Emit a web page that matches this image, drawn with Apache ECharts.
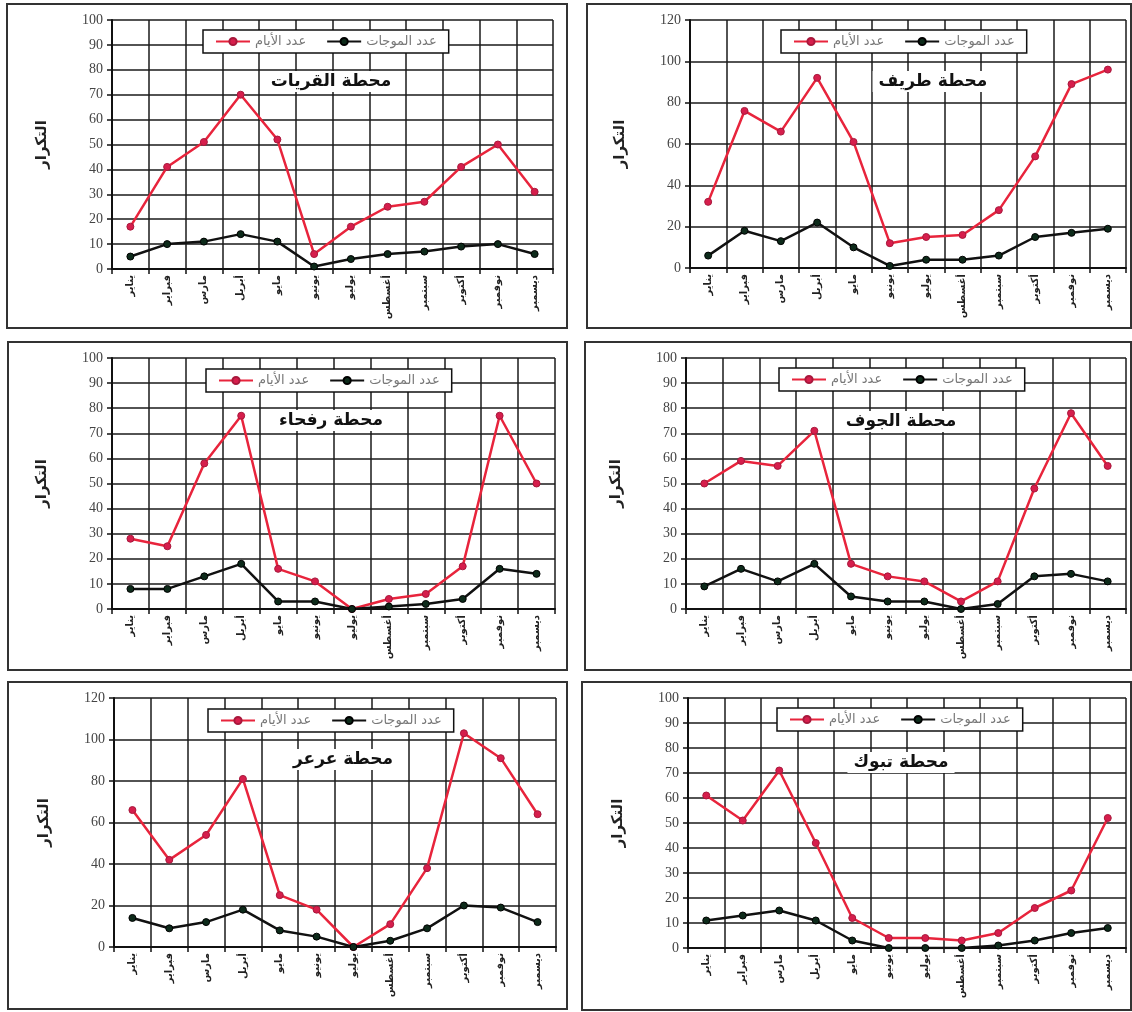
<!DOCTYPE html>
<html>
<head>
<meta charset="utf-8">
<script src="https://cdn.jsdelivr.net/npm/echarts@6/dist/echarts.min.js"></script>
<style>
html,body{margin:0;padding:0;background:#fff;}
#chart{width:1132px;height:1012px;}
</style>
</head>
<body>
<div id="chart"></div>
<script>
// ---- data ----
const months = ['يناير','فبراير','مارس','أبريل','مايو','يونيو','يوليو','أغسطس','سبتمبر','أكتوبر','نوفمبر','ديسمبر'];
const seriesNames = ['عدد الأيام','عدد الموجات'];
const yAxisName = 'التكرار';
const stationTitles = ['محطة القريات','محطة طريف','محطة رفحاء','محطة الجوف','محطة عرعر','محطة تبوك'];
const yMaxes = [100,120,100,100,120,100];
const yIntervals = [10,20,10,10,20,10];

const qurayyatDays  = [17,41,51,70,52,6,17,25,27,41,50,31];
const qurayyatWaves = [5,10,11,14,11,1,4,6,7,9,10,6];
const turaifDays    = [32,76,66,92,61,12,15,16,28,54,89,96];
const turaifWaves   = [6,18,13,22,10,1,4,4,6,15,17,19];
const rafhaDays     = [28,25,58,77,16,11,0,4,6,17,77,50];
const rafhaWaves    = [8,8,13,18,3,3,0,1,2,4,16,14];
const joufDays      = [50,59,57,71,18,13,11,3,11,48,78,57];
const joufWaves     = [9,16,11,18,5,3,3,0,2,13,14,11];
const ararDays      = [66,42,54,81,25,18,0,11,38,103,91,64];
const ararWaves     = [14,9,12,18,8,5,0,3,9,20,19,12];
const tabukDays     = [61,51,71,42,12,4,4,3,6,16,23,52];
const tabukWaves    = [11,13,15,11,3,0,0,0,1,3,6,8];

const daysData  = [qurayyatDays, turaifDays, rafhaDays, joufDays, ararDays, tabukDays];
const wavesData = [qurayyatWaves, turaifWaves, rafhaWaves, joufWaves, ararWaves, tabukWaves];

// ---- layout ----
const grids = [
  {left:112, top:20,  width:441, height:249},
  {left:690, top:20,  width:436, height:248},
  {left:112, top:358, width:443, height:251},
  {left:686, top:358, width:440, height:251},
  {left:114, top:698, width:442, height:249},
  {left:688, top:698, width:438, height:250}
];
const boxes = [
  [7,4,560,324],[587,4,544,324],
  [8,342,559,328],[585,342,546,328],
  [8,682,559,327],[582,682,549,328]
];
const legendPos = [[203,30],[781,30],[206,369],[779,368],[208,709],[777,708]];
const titlePos  = [[325,71],[927,71],[325,410],[895,411],[337,749],[895,752]];

const serif = '"Liberation Serif","DejaVu Serif","DejaVu Sans",serif';
const arab = '"DejaVu Sans",sans-serif';

const option = {
  backgroundColor:'#fff',
  animation:false,
  grid: grids.map(g=>Object.assign({containLabel:false}, g)),
  title: stationTitles.map((t,i)=>({
    text:t, left:titlePos[i][0], top:titlePos[i][1], textAlign:'center',
    backgroundColor:'#fff', padding:[2,6],
    textStyle:{fontFamily:arab, fontSize:17, fontWeight:'bold', color:'#111'}
  })),
  legend: legendPos.map((p,i)=>({
    data:seriesNames, left:p[0], top:p[1], orient:'horizontal',
    backgroundColor:'#fff', borderColor:'#111', borderWidth:1.5,
    padding:[5,12], itemGap:20, itemWidth:34, itemHeight:9,
    textStyle:{fontFamily:arab, fontSize:13, color:'#777'}
  })),
  xAxis: grids.map((g,i)=>({
    type:'category', gridIndex:i, data:months, boundaryGap:true,
    axisLine:{lineStyle:{color:'#111', width:2}},
    axisTick:{show:true, length:5, lineStyle:{color:'#111', width:1.5}},
    splitLine:{show:true, lineStyle:{color:'#1a1a1a', width:1.5}},
    axisLabel:{rotate:90, interval:0, fontFamily:arab, fontSize:10, fontWeight:'bold', color:'#222', margin:6}
  })),
  yAxis: grids.map((g,i)=>({
    type:'value', gridIndex:i, min:0, max:yMaxes[i], interval:yIntervals[i],
    name:yAxisName, nameLocation:'middle', nameRotate:90, nameGap:62,
    nameTextStyle:{fontFamily:arab, fontSize:15, fontWeight:'bold', color:'#222'},
    axisLine:{show:true, lineStyle:{color:'#111', width:2}},
    axisTick:{show:true, length:5, lineStyle:{color:'#111', width:1.5}},
    splitLine:{show:true, lineStyle:{color:'#1a1a1a', width:1.5}},
    axisLabel:{fontFamily:serif, fontSize:14, color:'#444', margin:9}
  })),
  series: [],
  graphic: boxes.map(b=>({
    type:'rect', shape:{x:b[0], y:b[1], width:b[2], height:b[3]},
    style:{fill:'none', stroke:'#333', lineWidth:2}, z:-1, silent:true
  }))
};

for (let i=0;i<6;i++){
  option.series.push({
    name:seriesNames[0], type:'line', xAxisIndex:i, yAxisIndex:i, data:daysData[i],
    symbol:'circle', symbolSize:7, z:3,
    lineStyle:{color:'#e8243c', width:2.5},
    itemStyle:{color:'#d61e4c', borderColor:'#a8183c', borderWidth:1}
  });
  option.series.push({
    name:seriesNames[1], type:'line', xAxisIndex:i, yAxisIndex:i, data:wavesData[i],
    symbol:'circle', symbolSize:7, z:4,
    lineStyle:{color:'#111', width:2.5},
    itemStyle:{color:'#0d2a1a', borderColor:'#000', borderWidth:1}
  });
}

const chart = echarts.init(document.getElementById('chart'), null, {renderer:'canvas'});
chart.setOption(option);
</script>
</body>
</html>
